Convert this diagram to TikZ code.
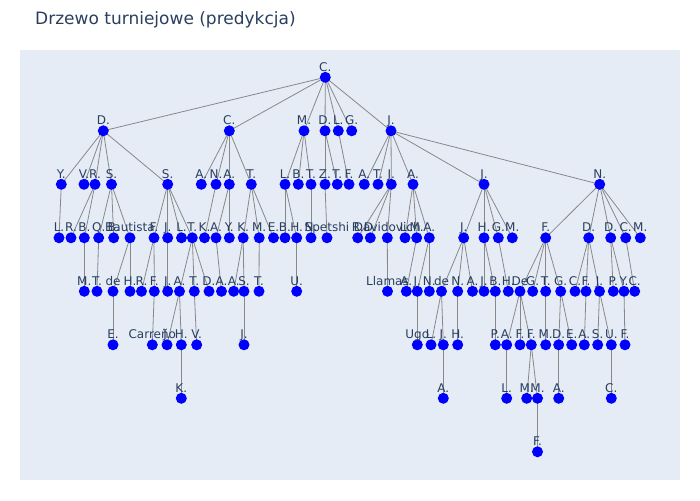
\documentclass[tikz,border=0pt]{standalone}
\usepackage{fontspec}
\setmainfont{DejaVu Sans}
\definecolor{bgc}{HTML}{E5ECF6}
\definecolor{txt}{HTML}{2A3F5F}
\definecolor{edc}{HTML}{888888}
\pgfdeclarelayer{bgl}
\pgfdeclarelayer{edl}
\pgfsetlayers{bgl,edl,main}
\tikzset{
  dot/.style={circle,fill=blue,minimum size=11pt,inner sep=0pt,label distance=6.5pt},
  lbl/.style={text=txt,font=\fontsize{12}{12}\selectfont,inner sep=0pt,text height=8.7pt,text depth=0pt},
  ed/.style={draw=edc,line width=0.8pt},
  ttl/.style={text=txt,font=\fontsize{17}{17}\selectfont,inner sep=0pt,anchor=base west}
}
\newcommand\tn[4]{\node[dot,label={[lbl]above:#4}] (#1) at (#2,#3) {};}
\begin{document}
\begin{tikzpicture}[x=1pt,y=-1pt]
\begin{pgfonlayer}{bgl}
\path[fill=white] (0,0) rectangle (700,500);
\fill[bgc] (20,50) rectangle (680,480);
\end{pgfonlayer}
\node[ttl] (title) at (35,25) {Drzewo turniejowe (predykcja)};
% level 0
\tn{r}{325.3}{77.3}{C.}
% level 1
\tn{a1}{103.3}{130.8}{D.}
\tn{a2}{229.3}{130.8}{C.}
\tn{a3}{304}{130.8}{M.}
\tn{a4}{325}{130.8}{D.}
\tn{a5}{338.3}{130.8}{L.}
\tn{a6}{351.7}{130.8}{G.}
\tn{a7}{391}{130.8}{J.}
% level 2
\tn{b1}{61.3}{184.3}{Y.}
\tn{b2}{84}{184.3}{V.}
\tn{b3}{95}{184.3}{R.}
\tn{b4}{111.5}{184.3}{S.}
\tn{b5}{167.7}{184.3}{S.}
\tn{b6}{201.3}{184.3}{A.}
\tn{b7}{216}{184.3}{N.}
\tn{b8}{229.3}{184.3}{A.}
\tn{b9}{251.3}{184.3}{T.}
\tn{b10}{285}{184.3}{L.}
\tn{b11}{298.3}{184.3}{B.}
\tn{b12}{311}{184.3}{T.}
\tn{b13}{325}{184.3}{Z.}
\tn{b14}{337.3}{184.3}{T.}
\tn{b15}{349}{184.3}{F.}
\tn{b16}{364.3}{184.3}{A.}
\tn{b17}{378}{184.3}{T.}
\tn{b18}{391.3}{184.3}{J.}
\tn{b19}{413}{184.3}{A.}
\tn{b20}{484}{184.3}{J.}
\tn{b21}{599.7}{184.3}{N.}
% level 3
\tn{c1}{59}{237.8}{L.}
\tn{c2}{71}{237.8}{R.}
\tn{c3}{84.3}{237.8}{B.}
\tn{c4}{98.7}{237.8}{Q.}
\tn{c5}{113.7}{237.8}{B.}
\tn{c6}{130}{237.8}{Bautista}
\tn{c7}{154}{237.8}{F.}
\tn{c8}{167.7}{237.8}{J.}
\tn{c9}{181.5}{237.8}{L.}
\tn{c10}{192.3}{237.8}{T.}
\tn{c11}{204.5}{237.8}{K.}
\tn{c12}{216}{237.8}{A.}
\tn{c13}{229.3}{237.8}{Y.}
\tn{c14}{243.2}{237.8}{K.}
\tn{c15}{259.2}{237.8}{M.}
\tn{c16}{273.5}{237.8}{E.}
\tn{c17}{285}{237.8}{B.}
\tn{c18}{296.7}{237.8}{H.}
\tn{c19}{311}{237.8}{N.}
\tn{c20}{327}{237.8}{Spetshi}
\tn{c21}{357.7}{237.8}{R.}
\tn{c22}{370.3}{237.8}{D.}
\tn{c23}{387.3}{237.8}{Davidovich}
\tn{c24}{405}{237.8}{L.}
\tn{c25}{416.7}{237.8}{M.}
\tn{c26}{429.3}{237.8}{A.}
\tn{c27}{463.7}{237.8}{J.}
\tn{c28}{484}{237.8}{H.}
\tn{c29}{498.3}{237.8}{G.}
\tn{c30}{512.3}{237.8}{M.}
\tn{c31}{545.7}{237.8}{F.}
\tn{c32}{588.7}{237.8}{D.}
\tn{c33}{610.7}{237.8}{D.}
\tn{c34}{625.7}{237.8}{C.}
\tn{c35}{640.3}{237.8}{M.}
% level 4
\tn{d1}{84.3}{291.3}{M.}
\tn{d2}{97}{291.3}{T.}
\tn{d3}{113}{291.3}{de}
\tn{d4}{130}{291.3}{H.}
\tn{d5}{141.5}{291.3}{R.}
\tn{d6}{154.3}{291.3}{F.}
\tn{d7}{167.7}{291.3}{J.}
\tn{d8}{179.5}{291.3}{A.}
\tn{d9}{194.3}{291.3}{T.}
\tn{d10}{209}{291.3}{D.}
\tn{d11}{221.5}{291.3}{A.}
\tn{d12}{233.7}{291.3}{A.}
\tn{d13}{244}{291.3}{S.}
\tn{d14}{259}{291.3}{T.}
\tn{d15}{296.7}{291.3}{U.}
\tn{d16}{387.5}{291.3}{Llamas}
\tn{d17}{406.3}{291.3}{A.}
\tn{d18}{417.3}{291.3}{J.}
\tn{d19}{429.3}{291.3}{N.}
\tn{d20}{441.5}{291.3}{de}
\tn{d21}{457.7}{291.3}{N.}
\tn{d22}{472.5}{291.3}{A.}
\tn{d23}{484}{291.3}{J.}
\tn{d24}{495.3}{291.3}{B.}
\tn{d25}{508.3}{291.3}{H.}
\tn{d26}{520}{291.3}{De}
\tn{d27}{532.7}{291.3}{G.}
\tn{d28}{545.7}{291.3}{T.}
\tn{d29}{560.7}{291.3}{G.}
\tn{d30}{575}{291.3}{C.}
\tn{d31}{586}{291.3}{F.}
\tn{d32}{599.5}{291.3}{J.}
\tn{d33}{613.3}{291.3}{P.}
\tn{d34}{624}{291.3}{Y.}
\tn{d35}{634.7}{291.3}{C.}
% level 5
\tn{e1}{113}{344.8}{E.}
\tn{e2}{152.3}{344.8}{Carreño}
\tn{e3}{167}{344.8}{J.}
\tn{e4}{181.3}{344.8}{H.}
\tn{e5}{196.7}{344.8}{V.}
\tn{e6}{244}{344.8}{J.}
\tn{e7}{417.3}{344.8}{Ugo}
\tn{e8}{431}{344.8}{L.}
\tn{e9}{443.3}{344.8}{J.}
\tn{e10}{457.7}{344.8}{H.}
\tn{e11}{495.3}{344.8}{P.}
\tn{e12}{506.7}{344.8}{A.}
\tn{e13}{520}{344.8}{F.}
\tn{e14}{531.3}{344.8}{F.}
\tn{e15}{545.7}{344.8}{M.}
\tn{e16}{558.7}{344.8}{D.}
\tn{e17}{571.7}{344.8}{E.}
\tn{e18}{584.3}{344.8}{A.}
\tn{e19}{597.7}{344.8}{S.}
\tn{e20}{611.3}{344.8}{U.}
\tn{e21}{625}{344.8}{F.}
% level 6
\tn{f1}{181.3}{398.3}{K.}
\tn{f2}{443.3}{398.3}{A.}
\tn{f3}{506.7}{398.3}{L.}
\tn{f4}{526.7}{398.3}{M.}
\tn{f5}{537.5}{398.3}{M.}
\tn{f6}{558.7}{398.3}{A.}
\tn{f7}{611.3}{398.3}{C.}
% level 7
\tn{g1}{537.5}{451.8}{F.}
\begin{pgfonlayer}{edl}
\foreach \p/\c in {r/a1,r/a2,r/a3,r/a4,r/a5,r/a6,r/a7,
  a1/b1,a1/b2,a1/b3,a1/b4,a1/b5,a2/b6,a2/b7,a2/b8,a2/b9,a3/b10,a3/b11,a3/b12,
  a4/b13,a4/b14,a5/b15,a7/b16,a7/b17,a7/b18,a7/b19,a7/b20,a7/b21,
  b1/c1,b3/c2,b3/c3,b4/c4,b4/c5,b4/c6,b5/c7,b5/c8,b5/c9,b5/c10,b7/c11,b8/c12,b8/c13,
  b9/c14,b9/c15,b9/c16,b10/c17,b10/c18,b12/c19,b13/c20,b18/c21,b18/c22,b18/c23,
  b19/c24,b19/c25,b19/c26,b20/c27,b20/c28,b20/c29,b20/c30,
  b21/c31,b21/c32,b21/c33,b21/c34,b21/c35,
  c3/d1,c4/d2,c6/d3,c6/d4,c7/d5,c7/d6,c8/d7,c10/d8,c10/d9,c10/d10,c12/d11,
  c14/d12,c14/d13,c15/d14,c18/d15,c23/d16,c25/d17,c26/d18,c26/d19,
  c27/d20,c27/d21,c27/d22,c28/d23,c28/d24,c29/d25,c31/d26,c31/d27,c31/d28,c31/d29,
  c32/d30,c32/d31,c32/d32,c33/d33,c33/d34,c34/d35,
  d3/e1,d6/e2,d8/e3,d8/e4,d9/e5,d13/e6,d18/e7,d20/e8,d20/e9,d21/e10,d24/e11,
  d26/e12,d26/e13,d26/e14,d28/e15,d29/e16,d29/e17,d31/e18,d32/e19,d32/e20,d34/e21,
  e4/f1,e9/f2,e12/f3,e14/f4,e14/f5,e16/f6,e20/f7,f5/g1}
  \draw[ed] (\p.center) -- (\c.center);
\end{pgfonlayer}
\end{tikzpicture}
\end{document}
